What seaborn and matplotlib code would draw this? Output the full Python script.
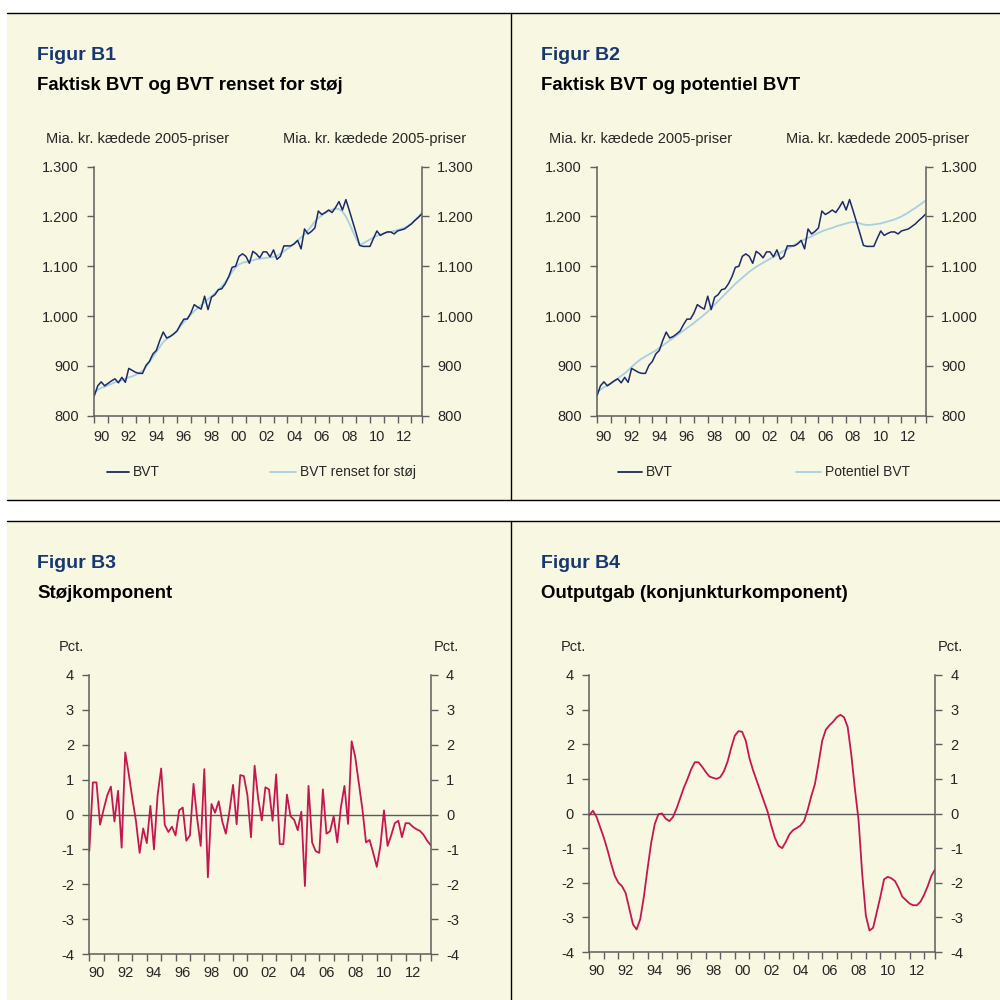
import numpy as np
import pandas as pd
import matplotlib.pyplot as plt
from matplotlib.lines import Line2D
from matplotlib.patches import Rectangle
import seaborn as sns

sns.set_style("ticks")
plt.rcParams['font.family'] = ['Liberation Sans', 'DejaVu Sans']
plt.rcParams['axes.unicode_minus'] = False

# Quarterly data 1990Q1 - 2013Q4
bvt = [840, 860, 868, 860, 865, 870, 874, 866, 877, 867, 895, 891, 887, 885, 885, 901,
       909, 924, 931, 951, 968, 956, 959, 964, 970, 983, 994, 994, 1006, 1023, 1018, 1014,
       1040, 1013, 1038, 1043, 1053, 1055, 1065, 1079, 1098, 1100, 1120, 1125, 1120, 1106, 1130, 1125,
       1117, 1129, 1129, 1119, 1133, 1114, 1120, 1141, 1141, 1141, 1145, 1152, 1135, 1175, 1165, 1170,
       1177, 1211, 1204, 1208, 1213, 1208, 1218, 1230, 1213, 1234, 1212, 1189, 1166, 1142, 1140, 1140,
       1140, 1156, 1171, 1162, 1166, 1169, 1169, 1165, 1171, 1173, 1175, 1180, 1185, 1192, 1198, 1205]

bvt_renset = [846, 852, 856, 858, 861, 864, 867, 869, 871, 874, 877, 879, 882, 886, 890, 898,
              908, 918, 928, 938, 948, 954, 959, 964, 971, 980, 988, 996, 1003, 1010, 1016, 1022,
              1028, 1034, 1040, 1046, 1053, 1060, 1068, 1078, 1089, 1098, 1104, 1107, 1109, 1110, 1112, 1114,
              1115, 1116, 1117, 1118, 1119, 1121, 1125, 1130, 1135, 1140, 1146, 1152, 1158, 1164, 1172, 1181,
              1190, 1197, 1202, 1207, 1211, 1214, 1216, 1215, 1210, 1200, 1186, 1170, 1155, 1143, 1146, 1150,
              1154, 1158, 1161, 1164, 1166, 1168, 1169, 1171, 1173, 1175, 1177, 1181, 1186, 1192, 1199, 1207]

bvt_potentiel = [848, 852, 857, 861, 865, 870, 875, 880, 885, 891, 898, 904, 910, 915, 919, 923,
                 927, 931, 936, 941, 946, 951, 956, 961, 966, 971, 976, 981, 986, 992, 997, 1003,
                 1009, 1016, 1023, 1030, 1037, 1044, 1051, 1058, 1065, 1071, 1077, 1083, 1089, 1094, 1099, 1103,
                 1107, 1111, 1115, 1119, 1123, 1127, 1131, 1135, 1139, 1143, 1147, 1151, 1154, 1157, 1160, 1164,
                 1167, 1170, 1173, 1175, 1177, 1180, 1182, 1184, 1186, 1188, 1189, 1188, 1186, 1184, 1183, 1183,
                 1184, 1185, 1186, 1188, 1190, 1192, 1194, 1197, 1200, 1204, 1208, 1213, 1217, 1222, 1227, 1232]

stoej = [-1.05, 0.92, 0.92, -0.29, 0.15, 0.55, 0.8, -0.2, 0.68, -0.95, 1.78, 1.15, 0.45, -0.2, -1.1, -0.4,
         -0.82, 0.25, -1.0, 0.55, 1.32, -0.3, -0.5, -0.35, -0.6, 0.12, 0.2, -0.75, -0.6, 0.88, -0.1, -0.9,
         1.3, -1.8, 0.3, 0.05, 0.38, -0.2, -0.55, 0.1, 0.85, -0.28, 1.13, 1.1, 0.55, -0.65, 1.4, 0.45,
         -0.17, 0.78, 0.72, -0.18, 1.15, -0.85, -0.85, 0.57, -0.05, -0.15, -0.45, 0.08, -2.05, 0.82, -0.8, -1.05,
         -1.1, 0.72, -0.55, -0.48, -0.05, -0.8, 0.2, 0.82, -0.27, 2.1, 1.65, 0.9, 0.15, -0.8, -0.73, -1.1,
         -1.5, -0.9, 0.12, -0.9, -0.6, -0.25, -0.18, -0.65, -0.25, -0.25, -0.35, -0.42, -0.47, -0.58, -0.75, -0.88]

outputgab = [-0.05, 0.08, -0.1, -0.4, -0.7, -1.05, -1.45, -1.8, -2.0, -2.1, -2.3, -2.75, -3.2, -3.35, -3.05, -2.4,
             -1.6, -0.85, -0.3, -0.02, 0.0, -0.15, -0.22, -0.1, 0.15, 0.45, 0.75, 1.0, 1.28, 1.48, 1.48, 1.35,
             1.2, 1.07, 1.03, 1.0, 1.05, 1.22, 1.5, 1.9, 2.25, 2.38, 2.36, 2.1, 1.6, 1.25, 0.95, 0.65,
             0.35, 0.05, -0.35, -0.7, -0.93, -1.0, -0.82, -0.6, -0.48, -0.42, -0.35, -0.22, 0.1, 0.5, 0.85, 1.45,
             2.1, 2.42, 2.55, 2.65, 2.78, 2.85, 2.78, 2.5, 1.7, 0.7, -0.2, -1.75, -2.95, -3.38, -3.3, -2.85,
             -2.4, -1.9, -1.83, -1.87, -1.95, -2.15, -2.4, -2.5, -2.6, -2.65, -2.65, -2.55, -2.35, -2.1, -1.8, -1.62]

years = list(range(1990, 2014))
year_labels = [f"{y % 100:02d}" if y % 2 == 0 else "" for y in years]

df = pd.DataFrame({
    "tid": 1990 + np.arange(len(bvt)) / 4,
    "bvt": bvt, "renset": bvt_renset, "potentiel": bvt_potentiel,
    "stoej": stoej, "gab": outputgab,
})

NAVY = "#1B2A68"
LIGHT = "#A8CFE2"
RED = "#C4174F"
TITLE = "#17386F"
SPINE = "#5E5E5E"
CREAM = "#F8F7E2"

fig = plt.figure(figsize=(10, 10), dpi=100)


def px(l, t, r, b):
    return [l / 1000, 1 - b / 1000, (r - l) / 1000, (b - t) / 1000]


# panel backgrounds and frame lines
for top, bot in [(13, 500), (521, 1000)]:
    fig.add_artist(Rectangle((0.007, 1 - bot / 1000), 0.993, (bot - top) / 1000,
                             transform=fig.transFigure, facecolor=CREAM, edgecolor="none", zorder=-5))
    fig.add_artist(Line2D([0.007, 1], [1 - top / 1000] * 2, color="black", lw=1, transform=fig.transFigure))
    fig.add_artist(Line2D([0.511, 0.511], [1 - top / 1000, 1 - bot / 1000], color="black", lw=1,
                          transform=fig.transFigure))
fig.add_artist(Line2D([0.007, 1], [0.5, 0.5], color="black", lw=1, transform=fig.transFigure))

TICKSIZE = 10.5


def style_axes(ax, ylim, yticks, ylabels, ypad, xpad):
    ax.set_facecolor("none")
    ax.set_xlim(1990, 2013.75)
    ax.set_ylim(*ylim)
    ax.set_xlabel("")
    ax.set_ylabel("")
    ax.set_yticks(yticks)
    ax.set_yticklabels(ylabels)
    ax.set_xticks(years + [2013.75])
    ax.set_xticklabels([""] * (len(years) + 1))
    ax.set_xticks([y + 0.5 for y in years], minor=True)
    ax.set_xticklabels(year_labels, minor=True)
    ax.tick_params(axis="x", which="major", length=5, width=1, color=SPINE, direction="out")
    ax.tick_params(axis="x", which="minor", length=0, pad=xpad, labelsize=TICKSIZE)
    ax.tick_params(axis="y", length=5, width=1, color=SPINE, direction="out", pad=ypad, labelsize=TICKSIZE)
    for s in ["top", "right"]:
        ax.spines[s].set_visible(False)
    for s in ["left", "bottom"]:
        ax.spines[s].set_color(SPINE)
        ax.spines[s].set_linewidth(1.1)
    ax2 = ax.twinx()
    ax2.set_ylim(*ylim)
    ax2.set_yticks(yticks)
    ax2.set_yticklabels(ylabels)
    ax2.tick_params(axis="y", length=5, width=1, color=SPINE, direction="out", pad=ypad, labelsize=TICKSIZE)
    for s in ["top", "left", "bottom"]:
        ax2.spines[s].set_visible(False)
    ax2.spines["right"].set_color(SPINE)
    ax2.spines["right"].set_linewidth(1.1)
    return ax2


bvt_ticks = [800, 900, 1000, 1100, 1200, 1300]
bvt_labels = [f"{v:,}".replace(",", ".") for v in bvt_ticks]
pct_ticks = [-4, -3, -2, -1, 0, 1, 2, 3, 4]
pct_labels = [str(v) for v in pct_ticks]

# Figur B1
ax1 = fig.add_axes(px(94.3, 166.7, 421.7, 415.7))
sns.lineplot(data=df, x="tid", y="renset", ax=ax1, color=LIGHT, lw=1.3)
sns.lineplot(data=df, x="tid", y="bvt", ax=ax1, color=NAVY, lw=1.1)
style_axes(ax1, (800, 1300), bvt_ticks, bvt_labels, 6, 10)

# Figur B2
ax2 = fig.add_axes(px(597, 166.7, 925.7, 415.7))
sns.lineplot(data=df, x="tid", y="potentiel", ax=ax2, color=LIGHT, lw=1.3)
sns.lineplot(data=df, x="tid", y="bvt", ax=ax2, color=NAVY, lw=1.1)
style_axes(ax2, (800, 1300), bvt_ticks, bvt_labels, 6, 10)

# Figur B3
ax3 = fig.add_axes(px(89.3, 675, 430.7, 954))
ax3.axhline(0, color="#5A5A5A", lw=1)
sns.lineplot(data=df, x="tid", y="stoej", ax=ax3, color=RED, lw=1.3)
style_axes(ax3, (-4, 4), pct_ticks, pct_labels, 6, 8.5)

# Figur B4
ax4 = fig.add_axes(px(589.3, 675, 935, 952))
ax4.axhline(0, color="#5A5A5A", lw=1)
sns.lineplot(data=df, x="tid", y="gab", ax=ax4, color=RED, lw=1.3)
style_axes(ax4, (-4, 4), pct_ticks, pct_labels, 6, 8.5)


def fy(y):
    return 1 - y / 1000


# titles
for x0, y0, fig_name, sub in [(37, 0, "Figur B1", "Faktisk BVT og BVT renset for støj"),
                              (541, 0, "Figur B2", "Faktisk BVT og potentiel BVT"),
                              (37, 508, "Figur B3", "Støjkomponent"),
                              (541, 508, "Figur B4", "Outputgab (konjunkturkomponent)")]:
    fig.text(x0 / 1000, fy(y0 + 56), fig_name, fontsize=14, fontweight="bold", color=TITLE, va="center")
    fig.text(x0 / 1000, fy(y0 + 85), sub, fontsize=13.4, fontweight="bold", color="black", va="center")

# unit labels
unit = "Mia. kr. kædede 2005-priser"
fig.text(46 / 1000, fy(139), unit, fontsize=10.5, va="center")
fig.text(466 / 1000, fy(139), unit, fontsize=10.5, va="center", ha="right")
fig.text(549 / 1000, fy(139), unit, fontsize=10.5, va="center")
fig.text(969 / 1000, fy(139), unit, fontsize=10.5, va="center", ha="right")
fig.text(59 / 1000, fy(647), "Pct.", fontsize=10.5, va="center")
fig.text(459 / 1000, fy(647), "Pct.", fontsize=10.5, va="center", ha="right")
fig.text(561 / 1000, fy(647), "Pct.", fontsize=10.5, va="center")
fig.text(963 / 1000, fy(647), "Pct.", fontsize=10.5, va="center", ha="right")

# legends
for x_a, x_b, color, label in [(107, 129, NAVY, "BVT"), (270, 296, LIGHT, "BVT renset for støj"),
                               (618, 642, NAVY, "BVT"), (796, 821, LIGHT, "Potentiel BVT")]:
    fig.add_artist(Line2D([x_a / 1000, x_b / 1000], [fy(472)] * 2, color=color, lw=1.3,
                          transform=fig.transFigure))
    fig.text((x_b + 4) / 1000, fy(472), label, fontsize=10, va="center")

fig.savefig("out.png", dpi=100, facecolor="white")
